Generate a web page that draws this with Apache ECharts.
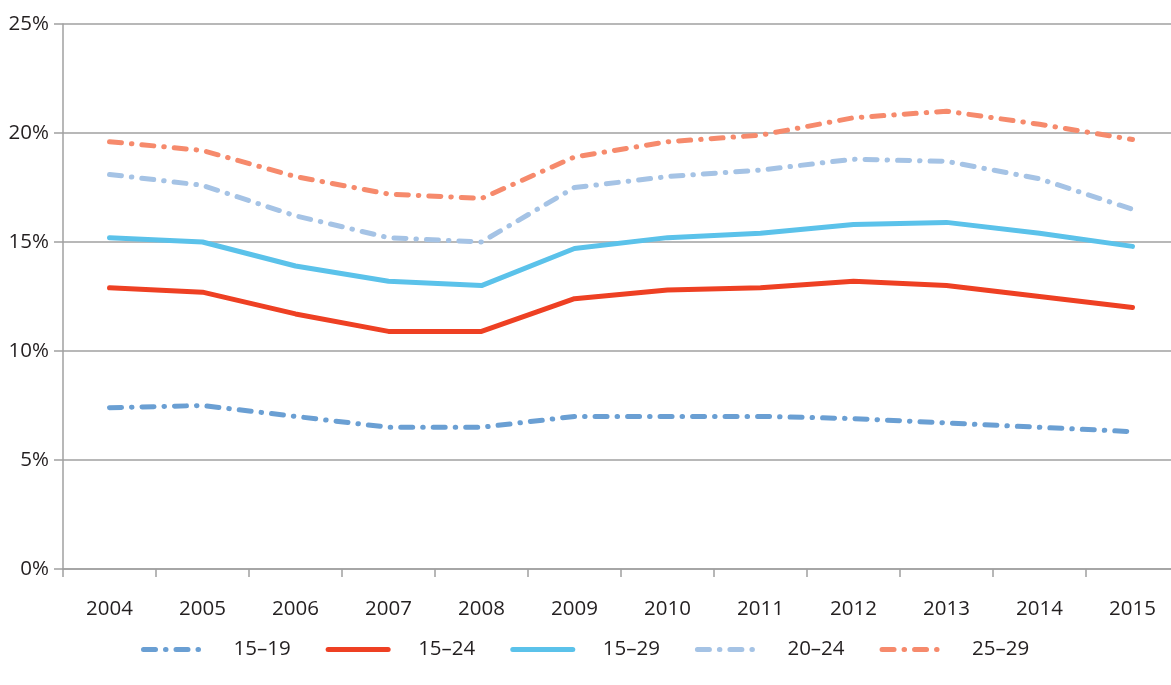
<!DOCTYPE html>
<html><head><meta charset="utf-8">
<script src="https://cdn.jsdelivr.net/npm/echarts@6/dist/echarts.min.js"></script>
<style>html,body{margin:0;padding:0;background:#fff;overflow:hidden}#c{width:1180px;height:685px}</style>
</head><body><div id="c"></div>
<script>
const years = ['2004','2005','2006','2007','2008','2009','2010','2011','2012','2013','2014','2015'];
const s1519 = [7.4, 7.5, 7.0, 6.5, 6.5, 7.0, 7.0, 7.0, 6.9, 6.7, 6.5, 6.3];
const s1524 = [12.9, 12.7, 11.7, 10.9, 10.9, 12.4, 12.8, 12.9, 13.2, 13.0, 12.5, 12.0];
const s1529 = [15.2, 15.0, 13.9, 13.2, 13.0, 14.7, 15.2, 15.4, 15.8, 15.9, 15.4, 14.8];
const s2024 = [18.1, 17.6, 16.2, 15.2, 15.0, 17.5, 18.0, 18.3, 18.8, 18.7, 17.9, 16.5];
const s2529 = [19.6, 19.2, 18.0, 17.2, 17.0, 18.9, 19.6, 19.9, 20.7, 21.0, 20.4, 19.7];
const yTicks = [0, 5, 10, 15, 20, 25];

const font = 'Open Sans';
const textColor = '#231f20';
const dashDot = [12, 10, 0.5, 10];
function ser(name, data, color, dashed) {
  return {
    name, type: 'line', data, showSymbol: false, symbol: 'none',
    lineStyle: { color, width: 5, type: dashed ? dashDot : 'solid', cap: 'round', join: 'round' },
    itemStyle: { color },
    z: 3
  };
}
const chart = echarts.init(document.getElementById('c'), null, { renderer: 'canvas' });
chart.setOption({
  animation: false,
  backgroundColor: '#fff',
  grid: { left: 63, top: 24, right: 1, bottom: 116, containLabel: false },
  legend: {
    top: 634, left: 136, itemWidth: 60, itemHeight: 8, itemGap: 35,
    itemStyle: { opacity: 0 },
    lineStyle: { width: 5, cap: 'round' },
    textStyle: { fontFamily: font, fontSize: 20.5, color: textColor, padding: [0, 0, 0, 25] },
    data: ['15–19', '15–24', '15–29', '20–24', '25–29']
  },
  xAxis: {
    type: 'category', data: years, boundaryGap: true,
    axisLine: { lineStyle: { color: '#a0a0a0', width: 1.5 } },
    axisTick: { show: true, length: 8, lineStyle: { color: '#a0a0a0', width: 1.5 } },
    axisLabel: { fontFamily: font, fontSize: 20.5, color: textColor, margin: 30 }
  },
  yAxis: {
    type: 'value', min: 0, max: 25, interval: 5,
    axisLine: { show: true, lineStyle: { color: '#a0a0a0', width: 1.5 } },
    axisTick: { show: true, length: 9, lineStyle: { color: '#a0a0a0', width: 1.5 } },
    splitLine: { show: true, lineStyle: { color: '#a0a0a0', width: 1.5 } },
    axisLabel: { fontFamily: font, fontSize: 20.5, color: textColor, margin: 14,
      formatter: v => yTicks.includes(v) ? v + '%' : '' }
  },
  series: [
    ser('15–19', s1519, '#6a9fd3', true),
    ser('15–24', s1524, '#ee4023', false),
    ser('15–29', s1529, '#5bc2ea', false),
    ser('20–24', s2024, '#a5c3e5', true),
    ser('25–29', s2529, '#f68a6c', true)
  ]
});
</script></body></html>
